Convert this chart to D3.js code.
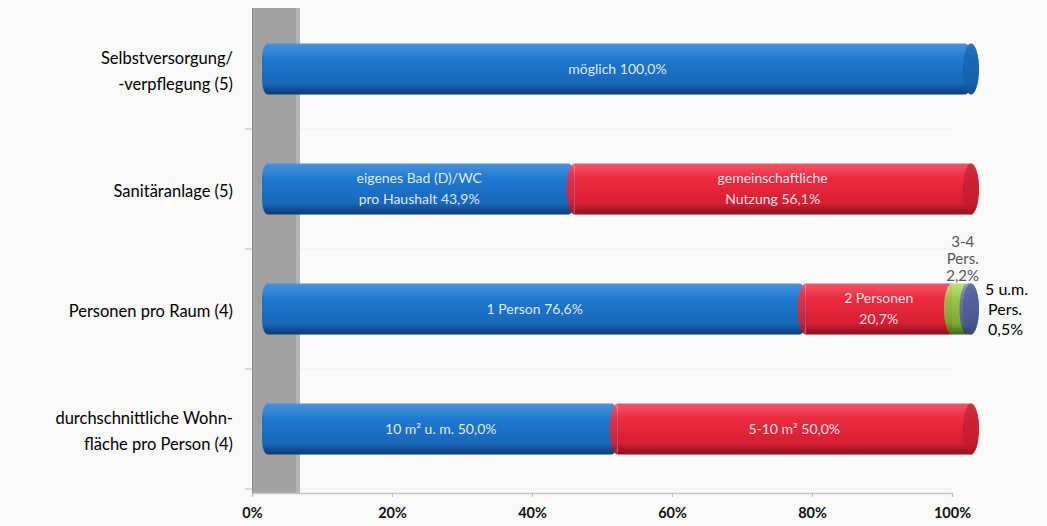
<!DOCTYPE html>
<html>
<head>
<meta charset="utf-8">
<style>
  body { margin: 0; padding: 0; background: #f9f9f9; }
  text { font-family: Lato, "Open Sans", sans-serif; }
</style>
</head>
<body>
<div id="chart"></div>
<script src="https://cdnjs.cloudflare.com/ajax/libs/d3/7.8.5/d3.min.js"></script>
<script>
  // category labels (one array of lines per row)
  var categories = [
    ["Selbstversorgung/", "-verpflegung (5)"],
    ["Sanitäranlage (5)"],
    ["Personen pro Raum (4)"],
    ["durchschnittliche Wohn-", "fläche pro Person (4)"]
  ];
  // segment values in percent per row
  var segValues = [
    [100.0],
    [43.9, 56.1],
    [76.6, 20.7, 2.2, 0.5],
    [50.0, 50.0]
  ];
  // segment labels per row
  var segLabels = [
    [["möglich 100,0%"]],
    [["eigenes Bad (D)/WC", "pro Haushalt 43,9%"], ["gemeinschaftliche", "Nutzung 56,1%"]],
    [["1 Person 76,6%"], ["2 Personen", "20,7%"], ["3-4", "Pers.", "2,2%"], ["5 u.m.", "Pers.", "0,5%"]],
    [["10 m² u. m. 50,0%"], ["5-10 m² 50,0%"]]
  ];
  var tickValues = [0, 0.2, 0.4, 0.6, 0.8, 1];

  var colors = [
    {id: "blue",   stops: ["#4a93dc", "#1f78d0", "#1868ba", "#0b3d74"], cap: "#145aa0"},
    {id: "red",    stops: ["#f25566", "#ec2a3f", "#d61f34", "#8a0f1f"], cap: "#b8192c"},
    {id: "green",  stops: ["#c2e07a", "#96c94a", "#77ab30", "#3f6a14"], cap: "#6b9a2a"},
    {id: "purple", stops: ["#8791c2", "#6070a8", "#4d5b93", "#2a3462"], cap: "#465391"}
  ];

  var width = 1047, height = 526;
  var svg = d3.select('#chart').append('svg').attr('width', width).attr('height', height);

  var defs = svg.append('defs');
  colors.forEach(function(c) {
    var g = defs.append('linearGradient').attr('id', 'g-' + c.id)
      .attr('x1', 0).attr('y1', 0).attr('x2', 0).attr('y2', 1);
    [0, 0.3, 0.78, 1].forEach(function(o, i) {
      g.append('stop').attr('offset', o).attr('stop-color', c.stops[i]);
    });
  });

  var y = d3.scaleBand()
    .domain(d3.range(categories.length))
    .range([9, 489])
    .paddingInner(0.575)
    .paddingOuter(0.2875);

  var xAxisScale = d3.scaleLinear().domain([0, 1]).range([252, 952]);
  var xBar = d3.scaleLinear().domain([0, 100]).range([264, 971]);

  // side wall
  svg.append('rect').attr('x', 252).attr('y', 8).attr('width', 48).attr('height', 485)
    .attr('fill', '#a2a2a2');
  svg.append('rect').attr('x', 296).attr('y', 8).attr('width', 4).attr('height', 485)
    .attr('fill', '#b4b4b4');
  svg.append('line').attr('x1', 252.5).attr('x2', 252.5).attr('y1', 8).attr('y2', 493)
    .attr('stroke', '#8a8a8a');

  // small ticks on the wall edge between categories
  var step = y.step();
  d3.range(categories.length).forEach(function(i) {
    var yy = y(i) + y.bandwidth() + (step - y.bandwidth()) / 2;
    svg.append('line').attr('x1', 245).attr('x2', 252).attr('y1', yy).attr('y2', yy)
      .attr('stroke', '#bbbbbb');
    svg.append('line').attr('x1', 300).attr('x2', 952).attr('y1', yy).attr('y2', yy)
      .attr('stroke', '#eeeeee');
  });

  // x axis
  var axis = svg.append('g').attr('transform', 'translate(0,493)')
    .call(d3.axisBottom(xAxisScale).tickValues(tickValues).tickSize(4).tickFormat(d3.format('.0%')));
  axis.select('.domain').attr('stroke', '#c6c6c6').attr('stroke-width', 1.5);
  axis.selectAll('.tick line').attr('stroke', '#bbbbbb');
  axis.selectAll('.tick text').attr('y', 15).attr('fill', '#111')
    .style('font-size', '14.5px').style('font-weight', 'bold')
    .style('font-family', 'Lato, sans-serif');

  // category labels
  categories.forEach(function(lines, i) {
    var cy = y(i) + y.bandwidth() / 2 + 2;
    var t = svg.append('text').attr('text-anchor', 'end').attr('fill', '#000')
      .style('font-size', '16.5px');
    lines.forEach(function(l, k) {
      t.append('tspan').attr('x', 233)
        .attr('y', cy + (k - (lines.length - 1) / 2) * 26)
        .attr('dy', '0.35em').text(l);
    });
  });

  // cylinders
  segValues.forEach(function(vals, i) {
    var top = y(i), h = y.bandwidth(), ry = h / 2, rx = 8;
    var g = svg.append('g');
    var acc = 0;
    vals.forEach(function(v, j) {
      var x0 = xBar(acc), x1 = xBar(acc + v);
      var c = colors[j];
      if (j === 0) {
        g.append('rect').attr('x', x0 - 2).attr('y', top).attr('width', x1 - x0 + 2).attr('height', h)
          .attr('rx', 6).attr('ry', ry * 0.55).attr('fill', 'url(#g-' + c.id + ')');
      } else {
        g.append('rect').attr('x', x0).attr('y', top).attr('width', x1 - x0).attr('height', h)
          .attr('fill', 'url(#g-' + c.id + ')');
        // seam: left face of segment
        g.append('path')
          .attr('d', 'M' + x0 + ',' + top + ' A' + rx + ',' + ry + ' 0 0,0 ' + x0 + ',' + (top + h))
          .attr('fill', 'url(#g-' + c.id + ')').attr('opacity', 0.9);
      }
      if (j === vals.length - 1) {
        g.append('ellipse').attr('cx', x1).attr('cy', top + ry).attr('rx', rx).attr('ry', ry)
          .attr('fill', c.cap);
        g.append('ellipse').attr('cx', x1).attr('cy', top + ry).attr('rx', rx).attr('ry', ry)
          .attr('fill', 'url(#g-' + c.id + ')').attr('opacity', 0.45);
      }
      acc += v;
    });

    // labels
    acc = 0;
    vals.forEach(function(v, j) {
      var lines = segLabels[i][j];
      var mid = xBar(acc + v / 2);
      var t;
      if (v >= 5) {
        t = svg.append('text').attr('text-anchor', 'middle').attr('fill', '#ffffff')
          .attr('fill-opacity', 0.88).style('font-size', '14px');
        lines.forEach(function(l, k) {
          t.append('tspan').attr('x', mid)
            .attr('y', top + ry + (k - (lines.length - 1) / 2) * 21)
            .attr('dy', '0.35em').text(l);
        });
      } else if (v >= 1) {
        t = svg.append('text').attr('text-anchor', 'middle').attr('fill', '#555')
          .style('font-size', '15px');
        lines.forEach(function(l, k) {
          t.append('tspan').attr('x', mid + 3)
            .attr('y', top - 8 - (lines.length - 1 - k) * 17)
            .attr('dy', '0.35em').text(l);
        });
      } else {
        t = svg.append('text').attr('text-anchor', 'start').attr('fill', '#000')
          .style('font-size', '16px');
        lines.forEach(function(l, k) {
          t.append('tspan').attr('x', xBar(acc + v) + 14 + (k ? 3 : 0))
            .attr('y', top + ry + (k - (lines.length - 1) / 2) * 20)
            .attr('dy', '0.35em').text(l);
        });
      }
      acc += v;
    });
  });
</script>
</body>
</html>
